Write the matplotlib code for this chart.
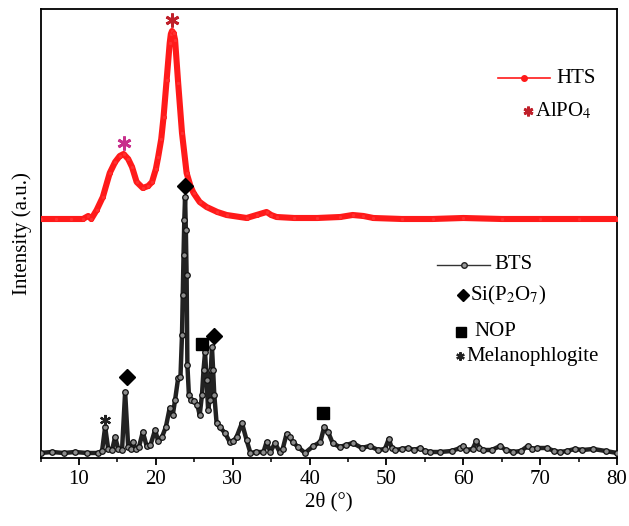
import matplotlib
matplotlib.use("Agg")
import matplotlib.pyplot as plt
import numpy as np

plt.rcParams['font.family'] = ['Liberation Serif', 'DejaVu Serif']
plt.rcParams['mathtext.fontset'] = 'stix'

# BTS pattern (2theta, intensity, a.u.)
bts_2t = [5.0, 6.5, 8.0, 9.5, 11.0, 12.5, 13.0, 13.4, 13.8, 14.3, 14.7, 15.1, 15.6, 16.0, 16.4,
          16.7, 17.0, 17.4, 17.8, 18.3, 18.8, 19.3, 19.9, 20.3, 20.8, 21.3, 21.8, 22.2, 22.5,
          22.9, 23.2, 23.4, 23.5, 23.6, 23.7, 23.8, 23.9, 24.0, 24.1, 24.3, 24.6, 25.0, 25.4,
          25.7, 26.0, 26.2, 26.4, 26.6, 26.8, 27.0, 27.15, 27.3, 27.45, 27.6, 27.9, 28.3, 29.0,
          29.6, 30.1, 30.5, 31.2, 31.8, 32.3, 33.0, 34.0, 34.4, 34.9, 35.5, 36.1, 36.5, 37.0,
          37.4, 37.8, 38.5, 39.4, 40.5, 41.4, 41.9, 42.4, 43.0, 43.9, 44.8, 45.6, 46.8, 47.8,
          48.9, 49.8, 50.3, 50.7, 51.1, 52.0, 52.8, 53.6, 54.4, 55.0, 55.7, 57.0, 58.5, 59.6,
          60.0, 60.4, 61.2, 61.7, 62.1, 62.5, 63.7, 64.8, 65.5, 66.5, 67.5, 68.4, 69.0, 69.6,
          70.9, 71.8, 72.6, 73.5, 74.5, 75.5, 76.9, 78.5, 80.0]
bts_int = [2, 3, 2, 3, 2, 2, 4, 28, 6, 5, 18, 6, 5, 63, 8,
           6, 13, 6, 8, 23, 9, 10, 25, 14, 18, 28, 47, 40, 55,
           77, 78, 120, 160, 200, 235, 258, 225, 180, 90, 60, 55, 54, 50,
           40, 60, 85, 103, 75, 45, 55, 85, 108, 85, 60, 32, 28, 22,
           13, 14, 18, 32, 15, 2, 3, 3, 13, 3, 12, 3, 6, 21,
           18, 13, 8, 2, 9, 13, 28, 23, 12, 8, 10, 12, 7, 9,
           5, 6, 16, 7, 5, 6, 7, 5, 7, 4, 3, 3, 4, 7,
           9, 5, 6, 14, 7, 5, 5, 9, 5, 3, 4, 9, 6, 7,
           7, 4, 3, 4, 6, 5, 6, 4, 2]

# HTS pattern (2theta, intensity, a.u.)
hts_2t = [5, 7, 9, 10.5, 11.2, 11.6, 12.3, 13.1, 14.0, 14.7, 15.3, 15.8, 16.4, 16.9, 17.5,
          18.3, 19.0, 19.5, 20.0, 20.3, 20.7, 21.0, 21.4, 21.8, 21.95, 22.1, 22.3, 22.5, 22.9,
          23.4, 24.0, 24.5, 24.9, 25.7, 26.6, 28.0, 29.2, 31.8, 33.1, 34.4, 35.0, 35.7, 38,
          41, 44, 45.6, 47, 48.3, 52, 56, 60, 65, 70, 75, 80]
hts_int = [0, 0, 0, 0, 3, 0, 9, 22, 46, 57, 63, 65, 60, 52, 37,
           31, 33, 37, 50, 62, 80, 102, 139, 176, 185, 188, 186, 179, 136,
           86, 46, 33, 26, 17, 12, 7, 4, 1, 4, 7, 4, 2, 1,
           1, 2, 4, 3, 1, 0, 0, 1, 0, 0, 0, 0]
hts_offset = 236

# phase marks: (2theta, height)
alpo4_marks = [(22.1, 435), (15.8, 312)]
sip2o7_marks = [(23.8, 269), (16.3, 78), (27.6, 119)]
nop_marks = [(26.0, 111), (41.8, 42)]
melano_marks = [(13.4, 35)]

fig = plt.figure(figsize=(6.29, 5.26), dpi=100)
ax = fig.add_axes([0.0645, 0.1293, 0.9165, 0.8536])

ax.plot(hts_2t, np.array(hts_int) + hts_offset, color='#ff1a1a', lw=4.4,
        marker='o', ms=3, mfc='#ff3030', mec='#ff1a1a', mew=0.6, zorder=3,
        solid_joinstyle='round', solid_capstyle='round')
ax.plot(bts_2t, bts_int, color='#222222', lw=3.2, solid_joinstyle='round',
        marker='o', ms=4.0, mfc='#8c8c8c', mec='#111111', mew=0.9, zorder=4)

ast = (6, 2, 0)
x, y = zip(*alpo4_marks)
ax.plot(x[0], y[0], ls='none', marker=ast, ms=10, mew=2.0, color='#c0202a', zorder=5)
ax.plot(x[1], y[1], ls='none', marker=ast, ms=10, mew=2.0, color='#c8308c', zorder=5)
x, y = zip(*sip2o7_marks)
ax.plot(x, y, ls='none', marker='D', ms=8, color='black', zorder=5)
x, y = zip(*nop_marks)
ax.plot(x, y, ls='none', marker='s', ms=9, color='black', zorder=5)
x, y = zip(*melano_marks)
ax.plot(x, y, ls='none', marker=ast, ms=8, mew=1.6, color='#222222', zorder=5)

# legend-like labels
tr = ax.transAxes
fs = 15
ax.plot([0.794, 0.884], [0.846, 0.846], transform=tr, color='#ff1a1a', lw=1.2)
ax.plot([0.839], [0.846], transform=tr, marker='o', ms=4, color='#ff1a1a')
ax.text(0.894, 0.846, 'HTS', transform=tr, fontsize=fs, va='center')
ax.plot([0.846], [0.772], transform=tr, marker=ast, ms=7, mew=2.0, color='#c0202a')
ax.text(0.857, 0.772, 'AlPO$_4$', transform=tr, fontsize=fs, va='center')

ax.plot([0.688, 0.780], [0.430, 0.430], transform=tr, color='#333333', lw=1.0)
ax.plot([0.734], [0.430], transform=tr, marker='o', ms=4, mfc='#999999', mec='#222222')
ax.text(0.788, 0.430, 'BTS', transform=tr, fontsize=fs, va='center')
ax.plot([0.733], [0.363], transform=tr, marker='D', ms=6.5, color='black')
ax.text(0.745, 0.363, 'Si(P$_2$O$_7$)', transform=tr, fontsize=fs, va='center')
ax.plot([0.729], [0.281], transform=tr, marker='s', ms=7, color='black')
ax.text(0.752, 0.281, 'NOP', transform=tr, fontsize=fs, va='center')
ax.plot([0.728], [0.227], transform=tr, marker=ast, ms=6, mew=1.6, color='#222222')
ax.text(0.738, 0.227, 'Melanophlogite', transform=tr, fontsize=fs, va='center')

ax.set_xlim(5, 80)
ax.set_ylim(-3, 446)
ax.set_xticks(np.arange(10, 81, 10))
ax.set_xticks(np.arange(5, 81, 5), minor=True)
ax.set_yticks([])
ax.tick_params(axis='x', which='major', length=5, width=1.3, labelsize=15, direction='out')
ax.tick_params(axis='x', which='minor', length=3, width=1.1, direction='out')
for s in ax.spines.values():
    s.set_linewidth(1.3)
ax.set_xlabel('2θ (°)', fontsize=15, labelpad=2)
ax.set_ylabel('Intensity (a.u.)', fontsize=15, labelpad=6)

fig.savefig('out.png', dpi=100)
